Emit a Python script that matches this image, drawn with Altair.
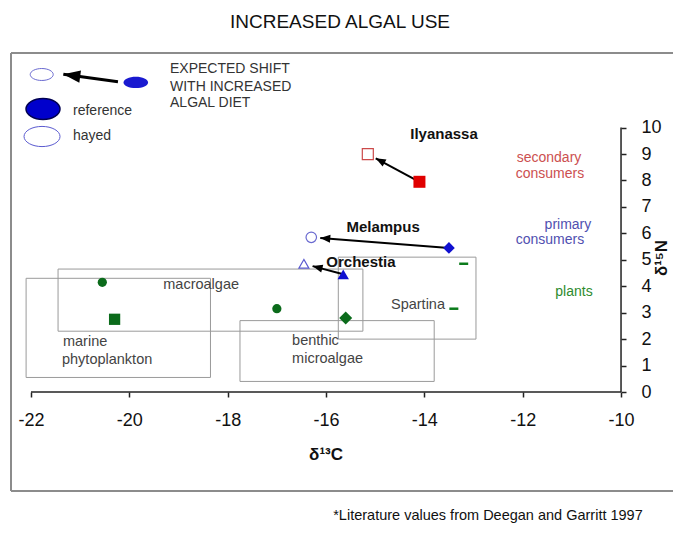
import math
import altair as alt
import pandas as pd

# ---------------- data ----------------
consumers = ["Ilyanassa", "Melampus", "Orchestia"]
ref_d13c = [-14.1, -13.5, -15.65]
ref_d15n = [7.95, 5.45, 4.45]
hayed_d13c = [-15.15, -16.3, -16.45]
hayed_d15n = [9.0, 5.85, 4.85]

algae_source = ["macroalgae", "marine phytoplankton", "macroalgae", "benthic microalgae"]
algae_d13c = [-20.55, -20.3, -17.0, -15.6]
algae_d15n = [4.15, 2.75, 3.15, 2.8]

spartina_d13c = [-13.2, -13.4]
spartina_d15n = [4.85, 3.15]

box_names = ["marine phytoplankton", "macroalgae", "benthic microalgae", "Spartina"]
box_c_lo = [-22.1, -21.45, -17.75, -15.75]
box_c_hi = [-18.35, -15.25, -13.8, -12.95]
box_n_lo = [0.55, 2.3, 0.4, 2.0]
box_n_hi = [4.3, 4.65, 2.7, 5.1]

x_ticks = [-22, -20, -18, -16, -14, -12, -10]
y_ticks = list(range(0, 11))

title_text = "INCREASED ALGAL USE"
footer_text = "*Literature values from Deegan and Garritt 1997"
x_title = "δ¹³C"
y_title = "δ¹⁵N"

# annotation anchors (data units)
consumer_label_c = [-13.60, -14.84, -15.29]
consumer_label_n = [9.76, 6.25, 4.93]

trophic_text = ["secondary", "consumers", "primary", "consumers", "plants"]
trophic_group = ["secondary", "secondary", "primary", "primary", "plants"]
trophic_c = [-11.465, -11.445, -11.08, -11.445, -10.957]
trophic_n = [8.84, 8.23, 6.32, 5.75, 3.78]

src_left_text = ["marine", "phytoplankton", "benthic", "microalgae"]
src_left_c = [-21.35, -21.37, -16.69, -16.69]
src_left_n = [1.90, 1.21, 1.94, 1.24]
src_center_text = ["macroalgae"]
src_center_c = [-18.54]
src_center_n = [4.05]
src_right_text = ["Spartina"]
src_right_c = [-13.58]
src_right_n = [3.29]

legend_shift_text = ["EXPECTED SHIFT", "WITH INCREASED", "ALGAL DIET"]
legend_shift_c = [-19.173, -19.173, -19.173]
legend_shift_n = [12.22, 11.55, 10.93]
legend_key_text = ["reference", "hayed"]
legend_key_c = [-21.146, -21.146]
legend_key_n = [10.63, 9.68]
legend_small_open = (-21.782, 12.008)
legend_small_filled = (-19.869, 11.706)
legend_arrow_from = (-20.231, 11.736)
legend_arrow_to = (-21.343, 12.016)
legend_big_ref = (-21.756, 10.703)
legend_big_hayed = (-21.776, 9.663)

# ---------------- scales / layout ----------------
FONT = "Liberation Sans"
X_DOMAIN = [-22.407, -8.943]
Y_DOMAIN = [-3.744, 12.821]
W, H = 662, 438
PX_X = W / (X_DOMAIN[1] - X_DOMAIN[0])
PX_Y = H / (Y_DOMAIN[1] - Y_DOMAIN[0])

xs = alt.Scale(domain=X_DOMAIN, nice=False, zero=False)
ys = alt.Scale(domain=Y_DOMAIN, nice=False, zero=False)

x_axis = alt.Axis(values=x_ticks, orient="bottom", offset=-99, domain=False, grid=False, ticks=True,
                  tickSize=5, tickWidth=1.5, tickColor="#222", labelFontSize=18,
                  labelFont=FONT, labelColor="#111", labelPadding=14, labelFlush=False,
                  labelOverlap=False, labelExpr="'' + datum.value", title=None)
y_axis = alt.Axis(values=y_ticks, orient="right", offset=-52, domain=False, grid=False,
                  ticks=True, tickSize=5, tickWidth=1.5, tickColor="#222", labelFontSize=18,
                  labelFont=FONT, labelColor="#111", labelPadding=15, labelFlush=False,
                  labelOverlap=False, labelExpr="'' + datum.value", title=None)


def X(f):
    return alt.X(f, type="quantitative", scale=xs, axis=x_axis)


def Y(f):
    return alt.Y(f, type="quantitative", scale=ys, axis=y_axis)


def arrow(c0, n0, c1, n1, gap):
    dxp = (c1 - c0) * PX_X
    dyp = -(n1 - n0) * PX_Y
    L = math.hypot(dxp, dyp)
    ux, uy = dxp / L, dyp / L
    tc = c1 - ux * gap / PX_X
    tn = n1 + uy * gap / PX_Y
    ang = math.degrees(math.atan2(ux, -uy)) % 360
    return tc, tn, ang


KAP = 0.5523


def ellipse_path(r):
    return (f"M -1 0 C -1 {-r*KAP:.3f} {-KAP:.3f} {-r} 0 {-r} "
            f"C {KAP:.3f} {-r} 1 {-r*KAP:.3f} 1 0 "
            f"C 1 {r*KAP:.3f} {KAP:.3f} {r} 0 {r} "
            f"C {-KAP:.3f} {r} -1 {r*KAP:.3f} -1 0 Z")


HEAD = "M 0 0 L -0.4 1 L 0.4 1 Z"
HEAD_WIDE = "M 0 0 L -0.36 1 L 0.36 1 Z"

# ---------------- frame ----------------
frame_col = "#8c8c8c"
one = pd.DataFrame({"a": [0]})
frame_top = alt.Chart(one).mark_rule(color=frame_col, strokeWidth=2).encode(
    x=alt.value(0), x2=alt.value(W), y=alt.value(0))
frame_bot = alt.Chart(one).mark_rule(color=frame_col, strokeWidth=2).encode(
    x=alt.value(0), x2=alt.value(W), y=alt.value(H))
frame_left = alt.Chart(one).mark_rule(color=frame_col, strokeWidth=2).encode(
    x=alt.value(0), y=alt.value(0), y2=alt.value(H))

# ---------------- boxes ----------------
box_df = pd.DataFrame({"name": box_names, "c0": box_c_lo, "c1": box_c_hi, "n0": box_n_lo, "n1": box_n_hi})
boxes = alt.Chart(box_df).mark_rect(fillOpacity=0, stroke="#9a9a9a", strokeWidth=1).encode(
    x=X("c0"), x2="c1", y=Y("n0"), y2="n1")

# ---------------- axis lines ----------------
xline = alt.Chart(pd.DataFrame({"c0": [x_ticks[0]], "c1": [x_ticks[-1]], "n": [y_ticks[0]]})).mark_rule(
    color="#222", strokeWidth=1.5).encode(x=X("c0"), x2="c1", y=Y("n"))
yline = alt.Chart(pd.DataFrame({"c": [x_ticks[-1]], "n0": [y_ticks[0]], "n1": [y_ticks[-1]]})).mark_rule(
    color="#222", strokeWidth=1.5).encode(x=X("c"), y=Y("n0"), y2="n1")

# ---------------- arrows ----------------
rows = []
for sp, rc, rn, hc, hn in zip(consumers, ref_d13c, ref_d15n, hayed_d13c, hayed_d15n):
    tc, tn, ang = arrow(rc, rn, hc, hn, 9)
    rows.append({"consumer": sp, "rc": rc, "rn": rn, "tc": tc, "tn": tn, "ang": ang})
arrow_df = pd.DataFrame(rows)
shafts = alt.Chart(arrow_df).mark_rule(color="black", strokeWidth=2).encode(
    x=X("rc"), y=Y("rn"), x2="tc", y2="tn")
heads = alt.Chart(arrow_df).mark_point(shape=HEAD, filled=True, color="black", opacity=1, size=400).encode(
    x=X("tc"), y=Y("tn"), angle=alt.Angle("ang:Q", scale=None))

# ---------------- consumer points ----------------
sp_df = pd.DataFrame({"consumer": consumers, "rc": ref_d13c, "rn": ref_d15n, "hc": hayed_d13c, "hn": hayed_d15n})
ref_pts = alt.Chart(sp_df).mark_point(filled=True, opacity=1).encode(
    x=X("rc"), y=Y("rn"),
    shape=alt.Shape("consumer:N", scale=alt.Scale(domain=consumers, range=["square", "diamond", "triangle-up"]), legend=None),
    color=alt.Color("consumer:N", scale=alt.Scale(domain=consumers, range=["#e00000", "#1010d0", "#1010d0"]), legend=None),
    size=alt.Size("consumer:N", scale=alt.Scale(domain=consumers, range=[144, 130, 150]), legend=None))
hay_pts = alt.Chart(sp_df).mark_point(filled=False, opacity=1, strokeWidth=1.2).encode(
    x=X("hc"), y=Y("hn"),
    shape=alt.Shape("consumer:N", scale=alt.Scale(domain=consumers, range=["square", "circle", "triangle-up"]), legend=None),
    color=alt.Color("consumer:N", scale=alt.Scale(domain=consumers, range=["#cc4a4a", "#6a6ad0", "#5a5ad0"]), legend=None),
    size=alt.Size("consumer:N", scale=alt.Scale(domain=consumers, range=[121, 100, 110]), legend=None))

# ---------------- primary producers ----------------
src_dom = ["macroalgae", "marine phytoplankton", "benthic microalgae"]
algae_df = pd.DataFrame({"source": algae_source, "c": algae_d13c, "n": algae_d15n})
algae_pts = alt.Chart(algae_df).mark_point(filled=True, opacity=1, color="#0b6b1b").encode(
    x=X("c"), y=Y("n"),
    shape=alt.Shape("source:N", scale=alt.Scale(domain=src_dom, range=["circle", "square", "diamond"]), legend=None),
    size=alt.Size("source:N", scale=alt.Scale(domain=src_dom, range=[85, 169, 75]), legend=None))
sp_pts = alt.Chart(pd.DataFrame({"c": spartina_d13c, "n": spartina_d15n})).mark_point(
    shape="stroke", filled=False, color="#0b7b1b", strokeWidth=2.5, size=81, opacity=1).encode(
    x=X("c"), y=Y("n"))

# ---------------- legend symbols ----------------
leg_arrow = arrow(legend_arrow_from[0], legend_arrow_from[1], legend_arrow_to[0], legend_arrow_to[1], 0)
leg_arrow_df = pd.DataFrame({"c0": [legend_arrow_from[0]], "n0": [legend_arrow_from[1]],
                             "c1": [legend_arrow_to[0]], "n1": [legend_arrow_to[1]], "ang": [leg_arrow[2]]})
leg_shaft = alt.Chart(leg_arrow_df).mark_rule(color="black", strokeWidth=3).encode(
    x=X("c0"), y=Y("n0"), x2="c1", y2="n1")
leg_head = alt.Chart(leg_arrow_df).mark_point(shape=HEAD_WIDE, filled=True, color="black", opacity=1, size=1156).encode(
    x=X("c1"), y=Y("n1"), angle=alt.Angle("ang:Q", scale=None))


def pt_df(p):
    return pd.DataFrame({"c": [p[0]], "n": [p[1]]})


leg_small_open = alt.Chart(pt_df(legend_small_open)).mark_point(
    shape=ellipse_path(0.52), filled=False, color="#6a6ad0", strokeWidth=1, size=529, opacity=1).encode(x=X("c"), y=Y("n"))
leg_small_filled = alt.Chart(pt_df(legend_small_filled)).mark_point(
    shape=ellipse_path(0.46), filled=True, color="#1a1ad0", size=600, opacity=1).encode(x=X("c"), y=Y("n"))
leg_big_ref = alt.Chart(pt_df(legend_big_ref)).mark_point(
    shape=ellipse_path(0.62), filled=True, fill="#0000cc", stroke="#000050", strokeWidth=1.5,
    size=1156, opacity=1).encode(x=X("c"), y=Y("n"))
leg_big_hayed = alt.Chart(pt_df(legend_big_hayed)).mark_point(
    shape=ellipse_path(0.56), filled=False, color="#5a5ad0", strokeWidth=1, size=1296, opacity=1).encode(x=X("c"), y=Y("n"))

# ---------------- texts ----------------
def text_layer(texts, cs, ns, **kw):
    df = pd.DataFrame({"t": texts, "c": cs, "n": ns})
    return alt.Chart(df).mark_text(font=FONT, **kw).encode(x=X("c"), y=Y("n"), text="t:N")


title = text_layer([title_text], [-15.716], [13.994], fontSize=19, color="#111")
footer = text_layer([footer_text], [-12.706], [-4.70], fontSize=14.5, color="#111")
xt = text_layer([x_title], [-16.0], [-2.383], fontSize=17, fontWeight="bold", color="#111")
yt = text_layer([y_title], [-9.167], [5.068], fontSize=17, fontWeight="bold", color="#111", angle=270)
cons_lbl = text_layer(consumers, consumer_label_c, consumer_label_n, fontSize=15, fontWeight="bold", color="#111")
troph_df = pd.DataFrame({"t": trophic_text, "g": trophic_group, "c": trophic_c, "n": trophic_n})
troph_lbl = alt.Chart(troph_df).mark_text(font=FONT, fontSize=14).encode(
    x=X("c"), y=Y("n"), text="t:N",
    color=alt.Color("g:N", scale=alt.Scale(domain=["secondary", "primary", "plants"],
                                            range=["#cc5050", "#5050b0", "#2e8b2e"]), legend=None))
src_l = text_layer(src_left_text, src_left_c, src_left_n, fontSize=14.5, color="#444", align="left")
src_c = text_layer(src_center_text, src_center_c, src_center_n, fontSize=14.5, color="#444")
src_r = text_layer(src_right_text, src_right_c, src_right_n, fontSize=14.5, color="#444", align="right")
leg_t1 = text_layer(legend_shift_text, legend_shift_c, legend_shift_n, fontSize=14, color="#333", align="left")
leg_t2 = text_layer(legend_key_text, legend_key_c, legend_key_n, fontSize=14, color="#333", align="left")

chart = alt.layer(
    xline, yline, frame_top, frame_bot, frame_left, boxes,
    shafts, heads, ref_pts, hay_pts, algae_pts, sp_pts,
    leg_shaft, leg_head, leg_small_open, leg_small_filled, leg_big_ref, leg_big_hayed,
    title, footer, xt, yt, cons_lbl, troph_lbl, src_l, src_c, src_r, leg_t1, leg_t2,
).resolve_scale(
    shape="independent", color="independent", size="independent"
).properties(
    width=W, height=H,
    padding={"left": 3, "top": 45, "right": 0, "bottom": 34},
    autosize=alt.AutoSizeParams(type="none"),
).configure_view(strokeWidth=0)

chart.save("out.html", embed_options={"renderer": "svg", "actions": False})
